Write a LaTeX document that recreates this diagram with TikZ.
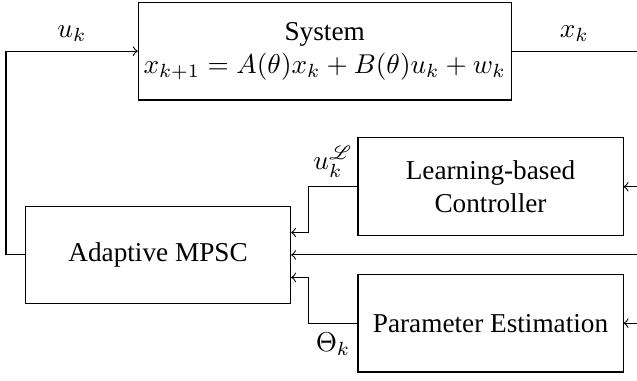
\documentclass[tikz,border=0pt]{standalone}
\usepackage{fontspec}
\setmainfont{Liberation Serif}
\usepackage{mathrsfs}
\begin{document}
\begin{tikzpicture}[
   box/.style={rectangle, draw, minimum width=3.42cm, minimum height=1.26cm, align=center, inner sep=1pt},
   arrow/.style={->}
]
\useasboundingbox (0,0) rectangle (8.22,-4.91);

% Blocks
\node[box, minimum width=4.81cm] (sys) at (4.19,-0.66) {System\\$x_{k+1} = A(\theta)x_k + B(\theta)u_k + w_k$};
\node[box] (mpsc) at (2.04,-3.29) {Adaptive MPSC};
\node[box] (learn) at (6.33,-2.41) {Learning-based\\Controller};
\node[box] (param) at (6.33,-4.17) {Parameter Estimation};

% Ends at the right border
\coordinate (xout) at (8.22,-0.66);
\coordinate (in1) at (8.22,-2.41);
\coordinate (in2) at (8.22,-3.29);
\coordinate (in3) at (8.22,-4.17);

% Input and output of the system
\draw[arrow] (mpsc.west) -- ++(-0.245,0) |- node[pos=0.75, above] {$u_k$} (sys.west);
\draw (sys.east) -- node[above] {$x_k$} (xout);

% Into the MPSC
\draw[arrow] (learn.west) -- ++(-0.63,0) node[midway, above] {$u_k^{\mathscr{L}}$} |- ([yshift=0.29cm]mpsc.east);
\draw[arrow] (param.west) -- ++(-0.63,0) node[midway, below] {$\Theta_k$} |- ([yshift=-0.29cm]mpsc.east);

% Feedback of the state
\draw[arrow] (in1) -- (learn.east);
\draw[arrow] (in2) -- (mpsc.east);
\draw[arrow] (in3) -- (param.east);
\end{tikzpicture}
\end{document}
